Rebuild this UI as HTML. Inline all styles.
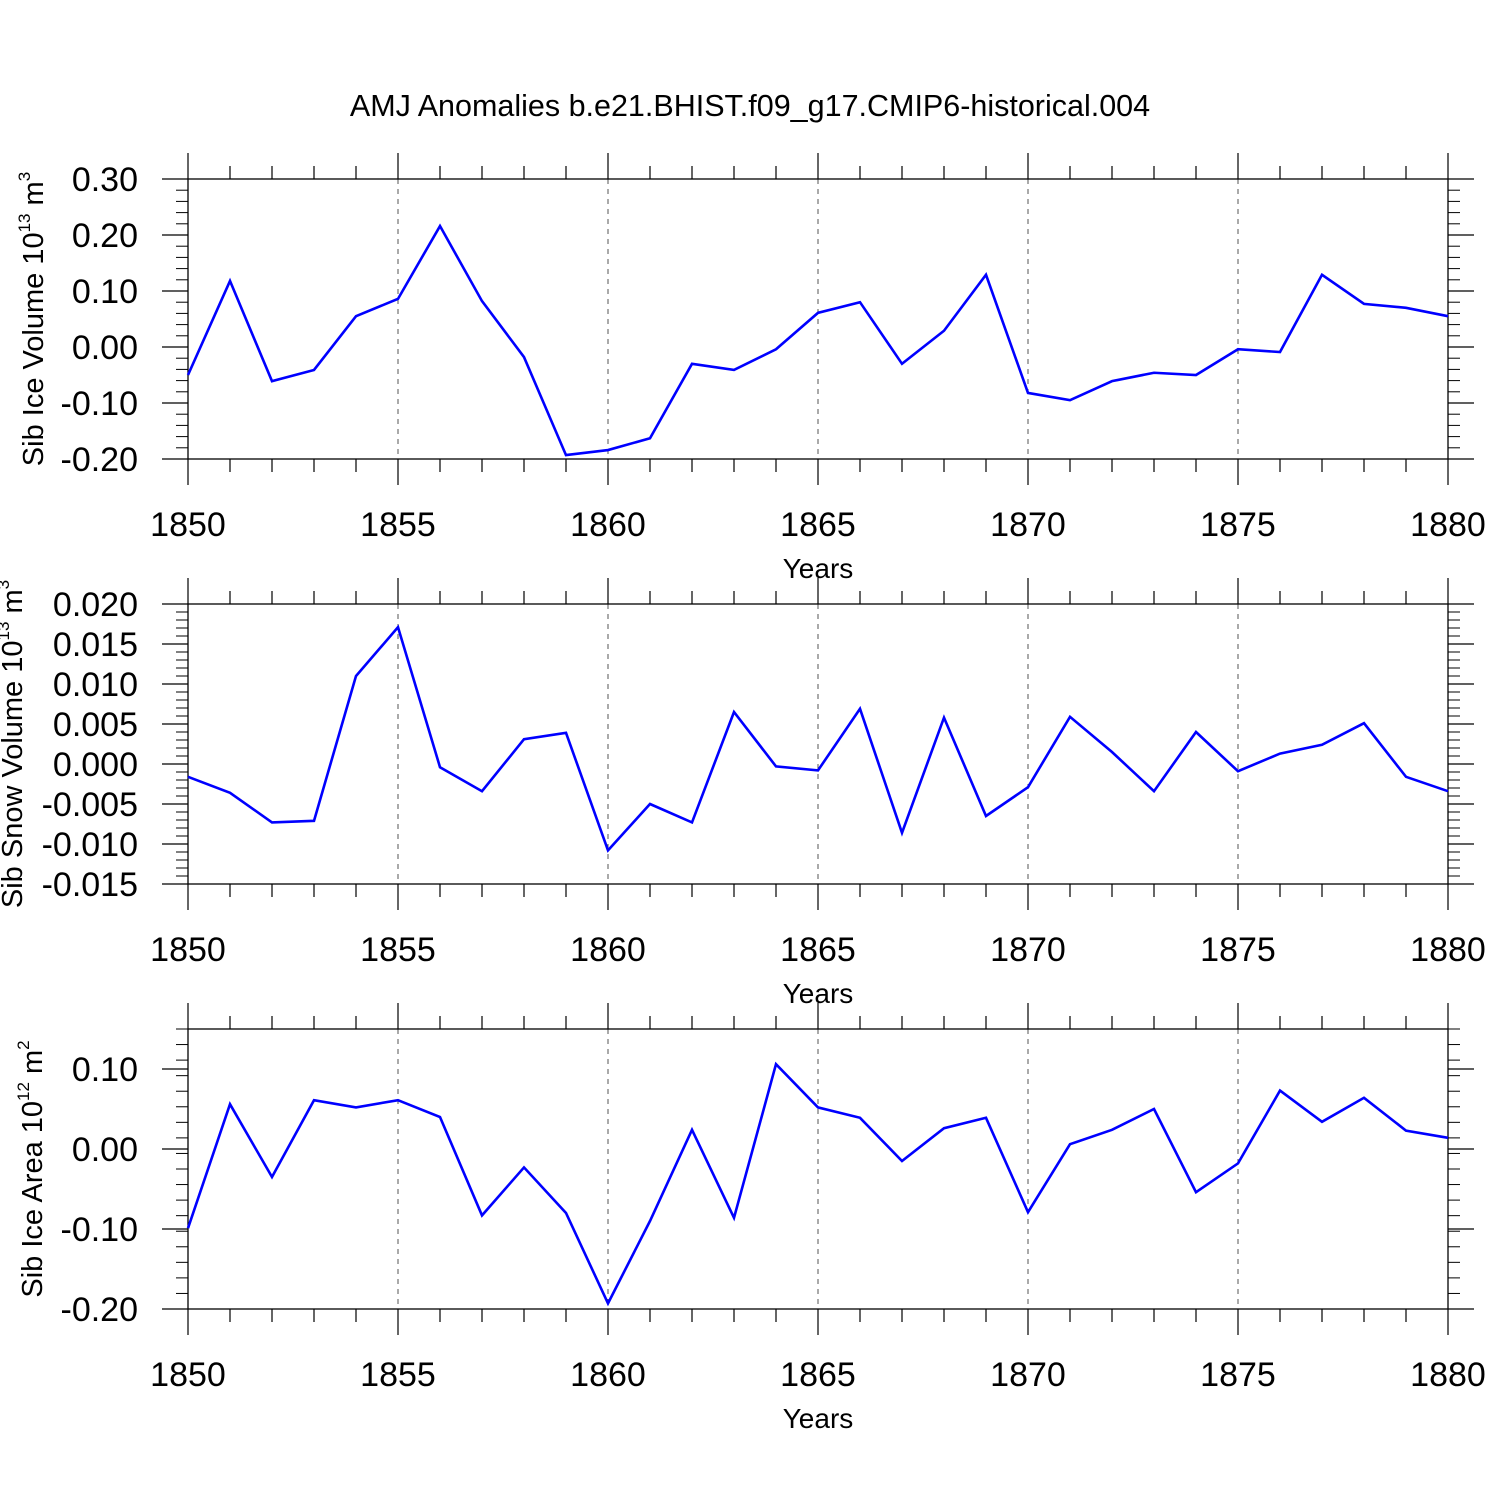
<!DOCTYPE html>
<html><head><meta charset="utf-8"><style>
html,body{margin:0;padding:0;background:#fff;}
svg{display:block;font-family:"Liberation Sans",Arial,sans-serif;}
</style></head><body>
<svg id="chart" width="1500" height="1500" viewBox="0 0 1500 1500" xmlns="http://www.w3.org/2000/svg">
<text x="750" y="116" font-size="30.5" text-anchor="middle">AMJ Anomalies b.e21.BHIST.f09_g17.CMIP6-historical.004</text>
</svg>
<script>
const years = [1850,1851,1852,1853,1854,1855,1856,1857,1858,1859,1860,1861,1862,1863,1864,1865,1866,1867,1868,1869,1870,1871,1872,1873,1874,1875,1876,1877,1878,1879,1880];
const iceVolume = [-0.05,0.118,-0.061,-0.041,0.055,0.086,0.216,0.082,-0.018,-0.193,-0.184,-0.163,-0.030,-0.041,-0.004,0.061,0.080,-0.030,0.029,0.129,-0.082,-0.095,-0.061,-0.046,-0.050,-0.004,-0.009,0.129,0.077,0.070,0.055];
const snowVolume = [-0.0016,-0.0036,-0.0073,-0.0071,0.011,0.0171,-0.0004,-0.0034,0.0031,0.0039,-0.0108,-0.005,-0.0073,0.0065,-0.0003,-0.0008,0.0069,-0.0086,0.0058,-0.0065,-0.0029,0.0059,0.0015,-0.0034,0.004,-0.0009,0.0013,0.0024,0.0051,-0.0016,-0.0034];
const iceArea = [-0.099,0.056,-0.035,0.061,0.052,0.061,0.04,-0.083,-0.023,-0.08,-0.193,-0.09,0.024,-0.086,0.106,0.052,0.039,-0.015,0.026,0.039,-0.079,0.006,0.024,0.05,-0.054,-0.018,0.073,0.034,0.064,0.023,0.014];
const xTickLabels = ["1850","1855","1860","1865","1870","1875","1880"];
const iceVolTicks = ["0.30","0.20","0.10","0.00","-0.10","-0.20"];
const snowTicks = ["0.020","0.015","0.010","0.005","0.000","-0.005","-0.010","-0.015"];
const areaTicks = ["0.10","0.00","-0.10","-0.20"];

const svg = document.getElementById('chart');
const NS = 'http://www.w3.org/2000/svg';
function mk(tag, attrs, parent){
  const e = document.createElementNS(NS, tag);
  for (const k in attrs) e.setAttribute(k, attrs[k]);
  (parent||svg).appendChild(e); return e;
}
const X0=188, X1=1448;
function xs(yr){ return X0 + (yr-1850)*(X1-X0)/30; }

const panels = [
  {name:'ice-volume', top:179, ymin:-0.20, ymax:0.30, major:0.1, minor:0.02, ticks:iceVolTicks, data:iceVolume, title:'Sib Ice Volume 10', exp:'13', unit:'3', tx:43},
  {name:'snow-volume', top:604, ymin:-0.015, ymax:0.020, major:0.005, minor:0.001, ticks:snowTicks, data:snowVolume, title:'Sib Snow Volume 10', exp:'13', unit:'3', tx:22},
  {name:'ice-area', top:1029, ymin:-0.20, ymax:0.15, major:0.1, minor:0.02, ticks:areaTicks, data:iceArea, title:'Sib Ice Area 10', exp:'12', unit:'2', tx:42}
];

panels.forEach(p=>{
  const g = mk('g',{});
  
  
  const top=p.top, bot=p.top+280;
  const ys = v => bot - (v-p.ymin)*280/(p.ymax-p.ymin);
  for (let yr=1855; yr<1880; yr+=5){
    const l = mk('line',{x1:xs(yr),x2:xs(yr),y1:top,y2:bot,stroke:'#555','stroke-width':1,'stroke-dasharray':'5,5'},g);
    
    
  }
  const fr = mk('rect',{x:X0,y:top,width:X1-X0,height:280,fill:'none',stroke:'#000','stroke-width':1.3},g);
  
  
  for (let yr=1850; yr<=1880; yr++){
    const major = (yr%5===0);
    const len = major?26:13, x=xs(yr);
    mk('line',{x1:x,x2:x,y1:top,y2:top-len,stroke:'#000','stroke-width':1.2},g);
    mk('line',{x1:x,x2:x,y1:bot,y2:bot+len,stroke:'#000','stroke-width':1.2},g);
  }
  xTickLabels.forEach(s=>{
    const t = mk('text',{x:xs(+s),y:bot+77,'font-size':34,'text-anchor':'middle'},g);
    
    
    t.textContent=s;
  });
  const xt = mk('text',{x:(X0+X1)/2,y:bot+119,'font-size':28,'text-anchor':'middle'},g);
  
  
  xt.textContent='Years';
  const nMinor = Math.round((p.ymax-p.ymin)/p.minor);
  for (let i=0;i<=nMinor;i++){
    const y = bot - i*280/nMinor;
    mk('line',{x1:X0,x2:X0-12,y1:y,y2:y,stroke:'#000','stroke-width':1},g);
    mk('line',{x1:X1,x2:X1+12,y1:y,y2:y,stroke:'#000','stroke-width':1},g);
  }
  p.ticks.forEach(s=>{
    const y = ys(parseFloat(s));
    mk('line',{x1:X0,x2:X0-26,y1:y,y2:y,stroke:'#000','stroke-width':1.2},g);
    mk('line',{x1:X1,x2:X1+26,y1:y,y2:y,stroke:'#000','stroke-width':1.2},g);
    const t = mk('text',{x:138,y:y+12,'font-size':34,'text-anchor':'end'},g);
    
    
    t.textContent=s;
  });
  const cy = top+140;
  const yt = mk('text',{x:0,y:0,'font-size':29,'text-anchor':'middle',transform:`translate(${p.tx},${cy}) rotate(-90)`},g);
  
  
  yt.appendChild(document.createTextNode(p.title));
  const s1 = mk('tspan',{'font-size':17,dy:-13},yt); s1.textContent=p.exp;
  const s2 = mk('tspan',{'font-size':29,dy:13},yt); s2.textContent=' m';
  const s3 = mk('tspan',{'font-size':17,dy:-13},yt); s3.textContent=p.unit;
  const pts = years.map((yr,i)=>xs(yr)+','+ys(p.data[i])).join(' ');
  const pl = mk('polyline',{points:pts,fill:'none',stroke:'#0000ff','stroke-width':2.6,'stroke-linejoin':'miter'},g);
  
  
});
</script>
</body></html>
